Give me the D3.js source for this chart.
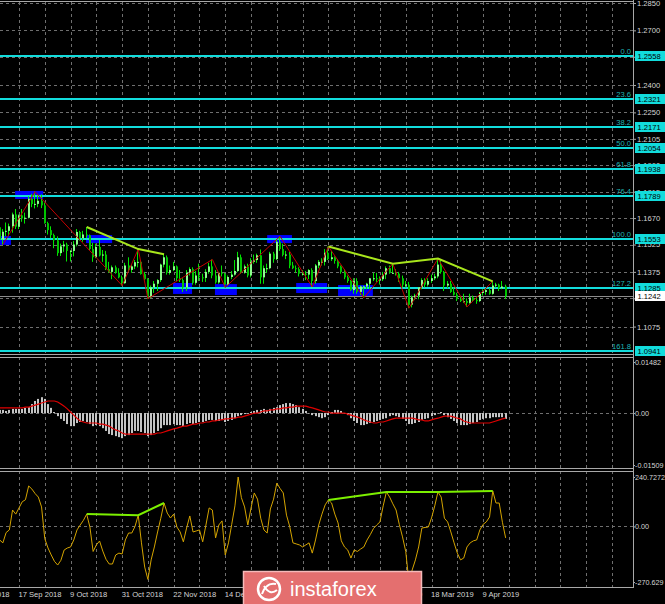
<!DOCTYPE html>
<html><head><meta charset="utf-8">
<script src="https://cdn.jsdelivr.net/npm/d3@7"></script>
<style>html,body{margin:0;padding:0;background:#000;overflow:hidden}svg{display:block}</style>
</head><body>
<svg id="c" width="665" height="604"></svg>
<script>
// ---------- DATA (EUR/USD daily, bar index 0 = 17 Sep 2018) ----------
const firstBar = -6;
const openP = [1.1620,1.1552,1.1595,1.1600,1.1625,1.1690,
1.1623,1.1685,1.1668,1.1672,1.1776,1.1747,1.1748,1.1765,1.1740,1.1642,
1.1604,1.1577,1.1548,1.1478,1.1515,1.1525,1.1490,1.1490,1.1525,1.1594,
1.1560,1.1580,1.1575,1.1500,1.1455,1.1512,1.1465,1.1470,1.1390,1.1375,
1.1400,1.1370,1.1345,1.1313,1.1410,1.1386,1.1405,1.1428,1.1430,1.1363,
1.1335,1.1235,1.1290,1.1310,1.1330,1.1415,1.1455,1.1370,1.1385,1.1405,
1.1340,1.1330,1.1290,1.1370,1.1390,1.1315,1.1355,1.1345,1.1342,1.1375,
1.1405,1.1355,1.1317,1.1370,1.1365,1.1305,1.1347,1.1360,1.1380,1.1455,
1.1370,1.1405,1.1355,1.1430,1.1440,1.1466,1.1345,1.1395,1.1395,1.1475,
1.1445,1.1540,1.1500,1.1468,1.1470,1.1410,1.1395,1.1390,1.1365,1.1365,
1.1360,1.1385,1.1325,1.1410,1.1430,1.1430,1.1480,1.1445,1.1455,1.1435,
1.1405,1.1375,1.1345,1.1325,1.1275,1.1325,1.1265,1.1295,1.1295,1.1310,
1.1340,1.1340,1.1335,1.1335,1.1360,1.1395,1.1370,1.1370,1.1365,1.1340,
1.1305,1.1305,1.1195,1.1235,1.1245,1.1290,1.1330,1.1305,1.1325,1.1340,
1.1350,1.1415,1.1375,1.1300,1.1310,1.1265,1.1250,1.1225,1.1215,1.1215,
1.1205,1.1235,1.1220,1.1215,1.1260,1.1265,1.1275,1.1255,1.1300,1.1305,1.1285,1.1295];
const highP = [1.1643,1.1610,1.1646,1.1640,1.1700,1.1720,
1.1690,1.1720,1.1700,1.1790,1.1803,1.1815,1.1794,1.1800,1.1755,1.1650,
1.1625,1.1585,1.1570,1.1530,1.1545,1.1535,1.1495,1.1545,1.1610,1.1600,
1.1600,1.1621,1.1580,1.1535,1.1530,1.1550,1.1495,1.1490,1.1430,1.1410,
1.1410,1.1395,1.1355,1.1425,1.1455,1.1415,1.1440,1.1500,1.1440,1.1375,
1.1340,1.1300,1.1325,1.1335,1.1420,1.1472,1.1465,1.1410,1.1430,1.1410,
1.1385,1.1340,1.1385,1.1400,1.1400,1.1380,1.1420,1.1365,1.1390,1.1425,
1.1443,1.1385,1.1375,1.1410,1.1370,1.1355,1.1380,1.1440,1.1485,1.1470,
1.1415,1.1420,1.1450,1.1470,1.1475,1.1498,1.1410,1.1420,1.1485,1.1485,
1.1550,1.1570,1.1530,1.1490,1.1485,1.1430,1.1410,1.1400,1.1385,1.1380,
1.1390,1.1395,1.1418,1.1440,1.1450,1.1500,1.1514,1.1490,1.1460,1.1445,
1.1410,1.1390,1.1355,1.1330,1.1340,1.1340,1.1300,1.1300,1.1315,1.1340,
1.1370,1.1370,1.1350,1.1375,1.1405,1.1410,1.1420,1.1390,1.1375,1.1355,
1.1325,1.1320,1.1245,1.1255,1.1290,1.1340,1.1340,1.1340,1.1360,1.1365,
1.1448,1.1440,1.1380,1.1325,1.1325,1.1290,1.1260,1.1240,1.1255,1.1230,
1.1255,1.1245,1.1240,1.1265,1.1280,1.1285,1.1285,1.1323,1.1315,1.1310,1.1325,1.1305];
const lowP = [1.1530,1.1525,1.1570,1.1570,1.1590,1.1610,
1.1610,1.1650,1.1640,1.1668,1.1730,1.1723,1.1730,1.1725,1.1640,1.1580,
1.1560,1.1505,1.1463,1.1462,1.1485,1.1432,1.1432,1.1460,1.1515,1.1547,
1.1540,1.1560,1.1495,1.1430,1.1450,1.1460,1.1430,1.1385,1.1370,1.1335,
1.1365,1.1340,1.1300,1.1310,1.1375,1.1370,1.1390,1.1400,1.1360,1.1330,
1.1228,1.1230,1.1260,1.1270,1.1320,1.1400,1.1360,1.1360,1.1380,1.1325,
1.1320,1.1265,1.1270,1.1355,1.1305,1.1305,1.1325,1.1320,1.1320,1.1365,
1.1340,1.1310,1.1310,1.1350,1.1290,1.1300,1.1335,1.1355,1.1375,1.1365,
1.1365,1.1345,1.1345,1.1420,1.1425,1.1310,1.1310,1.1370,1.1390,1.1425,
1.1440,1.1490,1.1460,1.1445,1.1395,1.1390,1.1370,1.1350,1.1355,1.1330,
1.1335,1.1292,1.1310,1.1395,1.1410,1.1410,1.1440,1.1435,1.1420,1.1395,
1.1365,1.1335,1.1315,1.1270,1.1255,1.1255,1.1248,1.1234,1.1280,1.1280,
1.1325,1.1320,1.1305,1.1325,1.1335,1.1365,1.1365,1.1355,1.1320,1.1290,
1.1290,1.1176,1.1180,1.1220,1.1225,1.1280,1.1290,1.1295,1.1315,1.1330,
1.1340,1.1365,1.1270,1.1285,1.1260,1.1245,1.1215,1.1210,1.1205,1.1183,
1.1200,1.1210,1.1200,1.1210,1.1245,1.1250,1.1250,1.1250,1.1290,1.1270,1.1280,1.1226];
const closeP = [1.1552,1.1595,1.1600,1.1625,1.1690,1.1623,
1.1685,1.1668,1.1672,1.1776,1.1747,1.1748,1.1765,1.1740,1.1642,1.1604,
1.1577,1.1548,1.1478,1.1515,1.1525,1.1490,1.1490,1.1525,1.1594,1.1560,
1.1580,1.1575,1.1500,1.1455,1.1512,1.1465,1.1470,1.1390,1.1375,1.1400,
1.1370,1.1345,1.1313,1.1410,1.1386,1.1405,1.1428,1.1430,1.1363,1.1335,
1.1235,1.1290,1.1310,1.1330,1.1415,1.1455,1.1370,1.1385,1.1405,1.1340,
1.1330,1.1290,1.1370,1.1390,1.1315,1.1355,1.1345,1.1342,1.1375,1.1405,
1.1355,1.1317,1.1370,1.1365,1.1305,1.1347,1.1360,1.1380,1.1455,1.1370,
1.1405,1.1355,1.1430,1.1440,1.1466,1.1345,1.1395,1.1395,1.1475,1.1445,
1.1540,1.1500,1.1468,1.1470,1.1410,1.1395,1.1390,1.1365,1.1365,1.1360,
1.1385,1.1325,1.1410,1.1430,1.1430,1.1480,1.1445,1.1455,1.1435,1.1405,
1.1375,1.1345,1.1325,1.1275,1.1325,1.1265,1.1295,1.1295,1.1310,1.1340,
1.1340,1.1335,1.1335,1.1360,1.1395,1.1370,1.1370,1.1365,1.1340,1.1305,
1.1305,1.1195,1.1235,1.1245,1.1290,1.1330,1.1305,1.1325,1.1340,1.1350,
1.1415,1.1375,1.1300,1.1310,1.1265,1.1250,1.1225,1.1215,1.1215,1.1205,
1.1235,1.1220,1.1215,1.1260,1.1265,1.1275,1.1255,1.1300,1.1305,1.1285,1.1295,1.1242];

const macdMain = [0.0009,0.0009,0.0006,0.0009,0.0012,0.0012,
0.0012,0.0012,0.0015,0.0017,0.0026,0.0035,0.0041,0.0046,0.0041,0.0026,
0.0015,0.0003,-0.0009,-0.0017,-0.0023,-0.0032,-0.0038,-0.0038,-0.0029,-0.0026,
-0.0023,-0.0026,-0.0032,-0.0038,-0.0035,-0.0038,-0.0044,-0.0052,-0.0061,-0.0064,
-0.0067,-0.0070,-0.0073,-0.0067,-0.0064,-0.0058,-0.0052,-0.0052,-0.0055,-0.0058,
-0.0067,-0.0064,-0.0058,-0.0052,-0.0044,-0.0035,-0.0035,-0.0035,-0.0032,-0.0035,
-0.0035,-0.0038,-0.0032,-0.0029,-0.0032,-0.0029,-0.0026,-0.0026,-0.0023,-0.0020,
-0.0020,-0.0023,-0.0023,-0.0020,-0.0026,-0.0023,-0.0020,-0.0015,-0.0009,-0.0006,
-0.0003,0.0000,0.0003,0.0006,0.0009,0.0009,0.0012,0.0009,0.0012,0.0015,
0.0017,0.0023,0.0026,0.0029,0.0029,0.0026,0.0023,0.0017,0.0012,0.0006,
0.0000,-0.0006,-0.0009,-0.0012,-0.0015,-0.0012,-0.0006,0.0003,0.0009,0.0009,
0.0006,0.0000,-0.0006,-0.0015,-0.0023,-0.0029,-0.0035,-0.0035,-0.0032,-0.0029,
-0.0026,-0.0023,-0.0020,-0.0017,-0.0015,-0.0009,-0.0006,-0.0009,-0.0012,-0.0017,
-0.0023,-0.0032,-0.0032,-0.0029,-0.0026,-0.0020,-0.0017,-0.0015,-0.0009,-0.0006,
0.0000,0.0003,-0.0006,-0.0012,-0.0017,-0.0023,-0.0029,-0.0035,-0.0035,-0.0035,
-0.0032,-0.0029,-0.0026,-0.0020,-0.0017,-0.0015,-0.0015,-0.0012,-0.0012,-0.0012,-0.0012,-0.0017];
const macdSignal = [0.0015,0.0015,0.0015,0.0015,0.0015,0.0015,
0.0015,0.0015,0.0017,0.0017,0.0020,0.0023,0.0026,0.0029,0.0032,0.0035,
0.0035,0.0035,0.0032,0.0026,0.0020,0.0012,0.0003,-0.0006,-0.0015,-0.0023,
-0.0026,-0.0029,-0.0029,-0.0029,-0.0029,-0.0032,-0.0032,-0.0035,-0.0038,-0.0044,
-0.0049,-0.0052,-0.0058,-0.0061,-0.0061,-0.0061,-0.0061,-0.0061,-0.0061,-0.0061,
-0.0061,-0.0061,-0.0061,-0.0058,-0.0058,-0.0055,-0.0052,-0.0049,-0.0046,-0.0044,
-0.0041,-0.0038,-0.0038,-0.0035,-0.0032,-0.0032,-0.0029,-0.0029,-0.0026,-0.0026,
-0.0023,-0.0023,-0.0020,-0.0020,-0.0017,-0.0017,-0.0015,-0.0015,-0.0012,-0.0012,
-0.0009,-0.0006,-0.0003,0.0000,0.0000,0.0003,0.0006,0.0006,0.0009,0.0009,
0.0012,0.0012,0.0015,0.0015,0.0017,0.0017,0.0020,0.0020,0.0020,0.0020,
0.0017,0.0015,0.0012,0.0009,0.0006,0.0003,0.0003,0.0000,0.0000,0.0000,
0.0000,0.0000,-0.0003,-0.0006,-0.0009,-0.0012,-0.0015,-0.0020,-0.0023,-0.0026,
-0.0029,-0.0029,-0.0026,-0.0026,-0.0023,-0.0020,-0.0017,-0.0015,-0.0015,-0.0015,
-0.0015,-0.0015,-0.0015,-0.0017,-0.0020,-0.0020,-0.0023,-0.0023,-0.0020,-0.0017,
-0.0015,-0.0012,-0.0009,-0.0009,-0.0009,-0.0012,-0.0015,-0.0017,-0.0023,-0.0026,
-0.0029,-0.0029,-0.0029,-0.0029,-0.0029,-0.0029,-0.0029,-0.0026,-0.0023,-0.0020,-0.0017,-0.0015];
const cciVals = [-66,-80,-30,-17,80,60,
90,120,130,197,182,160,143,95,-60,-105,
-139,-170,-188,-165,-115,-105,-100,-66,-17,7,
30,60,-3,-122,-90,-71,-120,-160,-183,-183,
-139,-130,-134,-66,-32,-32,0,55,-80,-198,
-258,-163,-100,-27,40,114,65,41,60,-3,
-27,-75,-8,51,-27,-22,-17,-75,7,90,
80,-56,7,27,-139,-80,10,100,240.7272,140,
95,7,90,163,133,40,-17,-32,85,133,
211,185,163,55,0,-80,-85,-90,-100,-90,
-80,-130,-66,7,60,105,129,114,60,17,
-70,-100,-115,-154,-115,-122,-110,-100,-66,-40,
-10,7,22,100,168,143,110,80,10,-51,
-122,-270.629,-212,-163,-100,-8,-5,-3,41,100,
168,143,40,22,-27,-80,-130,-163,-154,-100,
-80,-70,-66,-17,10,22,46,173,114,114,20,-56];

const zigzag = [[-5,1.1525],[5,1.1815],[32,1.1300],[37,1.1500],[40,1.1228],[60,1.1443],[64,1.1290],[81,1.1570],[91,1.1292],[96,1.1514],[107,1.1234],[116,1.1420],[121,1.1176],[130,1.1448],[139,1.1183],[147,1.1323]];
const priceTrend1 = [[21,1.1621],[37,1.1500],[45,1.1472]];
const priceTrend2 = [[96,1.1514],[116,1.1420],[130,1.1448],[147,1.1323]];
const cciTrend1 = [[21,60],[37,55],[45,114]];
const cciTrend2 = [[96,129],[114,168],[130,168],[147,173]];
// zones: [fromBar, toBar, topPrice, bottomPrice]
const zones = [[-1.2,7.5,1.1819,1.1775],[-6.5,-2.5,1.1572,1.1523],[20.8,28.9,1.1577,1.1533],[47.8,53.7,1.1314,1.1254],[60.8,67.6,1.1308,1.1248],[77,84.7,1.1577,1.1533],[86,95.6,1.1314,1.1259],[99,109.8,1.1303,1.1243]];
const fibPrices = [1.2558,1.2321,1.2171,1.2054,1.1938,1.1789,1.1553,1.1285,1.0941];
const fibLabels = ["0.0","23.6","38.2","50.0","61.8","76.4","100.0","127.2","161.8"];
const priceTicks = [1.2850,1.2700,1.2555,1.2400,1.2250,1.2105,1.1960,1.1815,1.1670,1.1525,1.1375,1.1230,1.1075];
const bidPrice = 1.1242;
const dateTickBars = [-16,0,16,32,48,64,80,96,112,128,144];
const dateTickLabels = ["24 Aug 2018","17 Sep 2018","9 Oct 2018","31 Oct 2018","22 Nov 2018","14 Dec 2018","9 Jan 2019","31 Jan 2019","22 Feb 2019","18 Mar 2019","9 Apr 2019"];
const macdTicks = [0.01482, 0, -0.01509];
const macdTickLabels = ["0.01482","0.00","-0.01509"];
const cciTicks = [240.7272, 0, -270.629];
const cciTickLabels = ["240.7272","0.00","-270.629"];

// ---------- LAYOUT ----------
const AX = 633;
const svg = d3.select("#c");
svg.append("rect").attr("width",665).attr("height",604).attr("fill","#000");
const FONT = "'Liberation Sans', Arial, sans-serif";
const x = d3.scaleLinear().domain([0,184]).range([19,612]);
const y = d3.scaleLinear().domain([1.0941,1.2850]).range([351,3]);
const ym = d3.scaleLinear().domain([-0.01509,0.01482]).range([465,362]);
const yc = d3.scaleLinear().domain([-270.629,240.7272]).range([582,477]);
const bars = openP.map((o,k)=>({i:firstBar+k,o,h:highP[k],l:lowP[k],c:closeP[k],m:macdMain[k],s:macdSignal[k],cci:cciVals[k]}));
const px = i => Math.round(x(i));

const defs = svg.append("defs");
defs.append("clipPath").attr("id","cm").append("rect").attr("x",0).attr("y",2).attr("width",AX).attr("height",352);
defs.append("clipPath").attr("id","cd").append("rect").attr("x",0).attr("y",358).attr("width",AX).attr("height",110);
defs.append("clipPath").attr("id","cc").append("rect").attr("x",0).attr("y",472).attr("width",AX).attr("height",115);

const gridCol = "#6f6f6f";
const vIdx = d3.range(0,185,8);
function vgrid(g,y0,y1){
  g.selectAll("line.v").data(vIdx).join("line").attr("class","v")
   .attr("x1",d=>px(d)+0.5).attr("x2",d=>px(d)+0.5).attr("y1",y0).attr("y2",y1)
   .attr("stroke",gridCol).attr("stroke-dasharray","3,3");
}

// ---------- MAIN PANEL ----------
const main = svg.append("g").attr("clip-path","url(#cm)");
vgrid(main,2,354);
main.selectAll("line.h").data(priceTicks).join("line").attr("class","h")
  .attr("x1",0).attr("x2",AX).attr("y1",d=>Math.round(y(d))+0.5).attr("y2",d=>Math.round(y(d))+0.5)
  .attr("stroke",gridCol).attr("stroke-dasharray","3,3");
main.selectAll("rect.zone").data(zones).join("rect").attr("class","zone")
  .attr("x",d=>x(d[0])).attr("width",d=>x(d[1])-x(d[0]))
  .attr("y",d=>y(d[2])).attr("height",d=>y(d[3])-y(d[2])).attr("fill","#0000ff");
main.selectAll("line.fib").data(fibPrices).join("line").attr("class","fib")
  .attr("x1",0).attr("x2",AX).attr("y1",d=>Math.round(y(d))).attr("y2",d=>Math.round(y(d)))
  .attr("stroke","#12dcdc").attr("stroke-width",2);
main.append("line").attr("x1",0).attr("x2",AX).attr("y1",Math.round(y(bidPrice))+0.5).attr("y2",Math.round(y(bidPrice))+0.5)
  .attr("stroke","#8c8c8c");
main.selectAll("text.fl").data(fibPrices).join("text").attr("class","fl")
  .attr("x",631).attr("y",d=>Math.round(y(d))-2).attr("text-anchor","end")
  .attr("font-family",FONT).attr("font-size",7.6).attr("fill","#1fb5b5").text((d,k)=>fibLabels[k]);

const cg = main.append("g");
cg.selectAll("rect.w").data(bars).join("rect").attr("class","w")
  .attr("x",d=>px(d.i)-1).attr("width",1)
  .attr("y",d=>y(d.h)).attr("height",d=>Math.max(1,y(d.l)-y(d.h))).attr("fill","#00e800");
cg.selectAll("rect.b").data(bars).join("rect").attr("class","b")
  .attr("x",d=>px(d.i)-1).attr("width",2)
  .attr("y",d=>y(Math.max(d.o,d.c))).attr("height",d=>Math.max(1,Math.abs(y(d.o)-y(d.c))))
  .attr("fill",d=>d.c>=d.o?"#8dff8d":"#00c400");

const lineP = d3.line().x(d=>x(d[0])).y(d=>y(d[1]));
main.append("path").attr("d",lineP(zigzag)).attr("fill","none").attr("stroke","#c40000").attr("stroke-width",1);
[priceTrend1,priceTrend2].forEach(t=>main.append("path").attr("d",lineP(t)).attr("fill","none")
  .attr("stroke","#a8e61c").attr("stroke-width",2));

// ---------- MACD PANEL ----------
const mg = svg.append("g").attr("clip-path","url(#cd)");
vgrid(mg,357,469);
mg.append("line").attr("x1",0).attr("x2",AX).attr("y1",Math.round(ym(0))+0.5).attr("y2",Math.round(ym(0))+0.5)
  .attr("stroke",gridCol).attr("stroke-dasharray","3,3");
mg.selectAll("rect.h").data(bars).join("rect").attr("class","h")
  .attr("x",d=>px(d.i)-1).attr("width",2)
  .attr("y",d=>Math.min(ym(0),ym(d.m))).attr("height",d=>Math.max(0.5,Math.abs(ym(d.m)-ym(0))))
  .attr("fill","#c4c4c4");
mg.append("path").attr("d",d3.line().x(d=>x(d.i)).y(d=>ym(d.s))(bars)).attr("fill","none")
  .attr("stroke","#e00000").attr("stroke-width",1.2);

// ---------- CCI PANEL ----------
const ccg = svg.append("g").attr("clip-path","url(#cc)");
vgrid(ccg,471,587);
ccg.append("line").attr("x1",0).attr("x2",AX).attr("y1",Math.round(yc(0))+0.5).attr("y2",Math.round(yc(0))+0.5)
  .attr("stroke",gridCol).attr("stroke-dasharray","3,3");
ccg.append("path").attr("d",d3.line().x(d=>x(d.i)).y(d=>yc(d.cci))(bars)).attr("fill","none")
  .attr("stroke","#d4a400").attr("stroke-width",1);
const lineC = d3.line().x(d=>x(d[0])).y(d=>yc(d[1]));
[cciTrend1,cciTrend2].forEach(t=>ccg.append("path").attr("d",lineC(t)).attr("fill","none")
  .attr("stroke","#7cf000").attr("stroke-width",2));

// ---------- FRAMES ----------
const frame = svg.append("g").attr("stroke","#a8a8a8").attr("stroke-width",1);
[[0,1.5,AX,1.5],[0,354.5,AX,354.5],[0,357.5,AX,357.5],[0,468.5,AX,468.5],[0,471.5,AX,471.5],[0,587.5,AX,587.5],[AX+0.5,0,AX+0.5,588]]
  .forEach(l=>frame.append("line").attr("x1",l[0]).attr("y1",l[1]).attr("x2",l[2]).attr("y2",l[3]));

// ---------- AXES ----------
function styleAxis(g,fs){
  g.select(".domain").remove();
  g.selectAll(".tick line").attr("stroke","#a8a8a8");
  g.selectAll("text").attr("font-family",FONT).attr("font-size",fs||7.6).attr("fill","#d6d6d6");
}
const pa = svg.append("g").attr("transform",`translate(${AX},0)`)
  .call(d3.axisRight(y).tickValues(priceTicks).tickFormat(d3.format(".4f")).tickSize(3).tickPadding(1));
styleAxis(pa);
// fibonacci price boxes + bid box
const fb = svg.append("g");
const fib = fibPrices.map(v=>({v,bg:"#12dcdc"})).concat([{v:bidPrice,bg:"#ffffff"}]);
fb.selectAll("rect").data(fib).join("rect").attr("x",635).attr("width",30)
  .attr("y",d=>Math.round(y(d.v))-5).attr("height",10).attr("fill",d=>d.bg);
fb.selectAll("text").data(fib).join("text").attr("x",637.5).attr("y",d=>Math.round(y(d.v))+3)
  .attr("font-family",FONT).attr("font-size",7.6).attr("fill","#000").text(d=>d.v.toFixed(4));

const ma = svg.append("g").attr("transform",`translate(${AX},0)`)
  .call(d3.axisRight(ym).tickValues(macdTicks).tickFormat((d,k)=>macdTickLabels[k]).tickSize(2).tickPadding(0));
styleAxis(ma,7.2);
const ca = svg.append("g").attr("transform",`translate(${AX},0)`)
  .call(d3.axisRight(yc).tickValues(cciTicks).tickFormat((d,k)=>cciTickLabels[k]).tickSize(2).tickPadding(0));
styleAxis(ca,7.2);

const da = svg.append("g").attr("transform","translate(0,588)")
  .call(d3.axisBottom(x).tickValues(dateTickBars).tickFormat((d,k)=>dateTickLabels[k]).tickSize(0));
styleAxis(da);
da.selectAll("text").attr("text-anchor","start").attr("x",-1).attr("y",4).attr("dy","0.71em");

// ---------- WATERMARK ----------
const wm = svg.append("g");
wm.append("rect").attr("x",243.5).attr("y",571.5).attr("width",178).attr("height",40)
  .attr("fill","#e46f6f").attr("stroke","#f4b9b9").attr("stroke-width",1.5);
wm.append("circle").attr("cx",269).attr("cy",589).attr("r",11).attr("fill","none").attr("stroke","#fff").attr("stroke-width",2.5);
wm.append("path").attr("d","M262,594 Q266,582 276,584 M264,586 Q270,596 277,590").attr("fill","none").attr("stroke","#fff").attr("stroke-width",2);
wm.append("text").attr("x",290).attr("y",596).attr("font-family",FONT).attr("font-size",20)
  .attr("fill","#ffffff").text("instaforex");
</script>
</body></html>
